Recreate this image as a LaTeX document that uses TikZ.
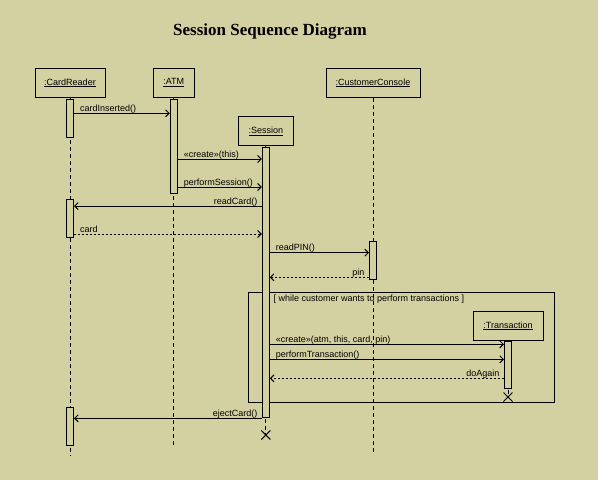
\documentclass[tikz,border=0pt]{standalone}
\usepackage{fontspec}
\setmainfont{Liberation Sans}
\newfontfamily\titlefont{Liberation Serif}
\usetikzlibrary{arrows.meta,shapes.misc}
\definecolor{paper}{RGB}{211,209,161}
\tikzstyle{object} = [rectangle, draw, fill=paper, minimum height=29, inner sep=0pt]
\tikzstyle{activation} = [rectangle, draw, fill=paper, minimum width=7, inner sep=0pt]
\tikzstyle{lifeline} = [draw, dash pattern=on 4pt off 3pt]
\tikzstyle{call} = [draw, -{Straight Barb[length=3.5pt,width=7pt]}]
\tikzstyle{reply} = [call, dash pattern=on 2pt off 2pt]
\tikzstyle{sendtext} = [pos=0, anchor=base west, xshift=5.5pt, yshift=2pt, inner sep=0pt]
\tikzstyle{backtext} = [pos=0, anchor=base east, xshift=-4pt, yshift=2pt, inner sep=0pt]
\tikzstyle{destroy} = [draw, cross out, minimum size=8, inner sep=0pt]

\begin{document}
\begin{tikzpicture}[x=1pt, y=-1pt, line width=1pt, font=\fontsize{9}{10}\selectfont]
  \fill[paper] (0,0) rectangle (598,480);
  \node[anchor=base, font=\titlefont\fontsize{17}{20}\selectfont\bfseries] (title) at (270,35) {Session Sequence Diagram};

  % loop frame
  \node[draw, rectangle, minimum width=306, minimum height=110, inner sep=0pt] (loop) at (401.3,347.3) {};
  \node[anchor=base west, xshift=25.4pt, yshift=-9.7pt, inner sep=0pt] (guard) at (loop.north west)
        {[ while customer wants to perform transactions ]};

  % objects
  \node[object, minimum width=70] (cr) at (70,82.8) {\underline{:CardReader}};
  \node[object, minimum width=41] (atm) at (173.8,82.8) {\underline{:ATM}};
  \node[object, minimum width=55] (ses) at (265.8,131) {\underline{:Session}};
  \node[object, minimum width=94] (cc) at (373,82.8) {\underline{:CustomerConsole}};
  \node[object, minimum width=70] (tr) at (508,325.8) {\underline{:Transaction}};

  % ends of the lifelines
  \coordinate (crEnd) at (70,455);
  \coordinate (atmEnd) at (173.8,447.7);
  \coordinate (ccEnd) at (373,453);
  \node[destroy] (sesX) at (265.8,435) {};
  \node[destroy] (trX) at (508,397) {};

  \path[lifeline] (cr.south) -- (crEnd);
  \path[lifeline] (atm.south) -- (atmEnd);
  \path[lifeline] (cc.south) -- (ccEnd);
  \path[lifeline] (ses.south) -- (sesX.center);
  \path[lifeline] (tr.south) -- (trX.center);

  % activations
  \node[activation, minimum height=38] (cr1) at (70,118.3) {};
  \node[activation, minimum height=38] (cr2) at (70,218.3) {};
  \node[activation, minimum height=38] (cr3) at (70,426.3) {};
  \node[activation, minimum height=94] (atm1) at (173.8,146.3) {};
  \node[activation, minimum height=270] (ses1) at (265.8,282.3) {};
  \node[activation, minimum height=38] (cc1) at (373,260.3) {};
  \node[activation, minimum height=47] (tr1) at (508,364.8) {};

  % message rows
  \coordinate (m1) at (0,113.3);
  \coordinate (m2) at (0,159);
  \coordinate (m3) at (0,187);
  \coordinate (m4) at (0,206);
  \coordinate (m5) at (0,234);
  \coordinate (m6) at (0,252.7);
  \coordinate (m7) at (0,277.3);
  \coordinate (m8) at (0,344.3);
  \coordinate (m9) at (0,359.3);
  \coordinate (m10) at (0,378.3);
  \coordinate (m11) at (0,418.3);

  \path[call] (cr1.east |- m1) -- node[sendtext] {cardInserted()} (atm1.west |- m1);
  \path[call] (atm1.east |- m2) -- node[sendtext] {«create»(this)} (ses1.west |- m2);
  \path[call] (atm1.east |- m3) -- node[sendtext] {performSession()} (ses1.west |- m3);
  \path[call] (ses1.west |- m4) -- node[backtext] {readCard()} (cr2.east |- m4);
  \path[reply] (cr2.east |- m5) -- node[sendtext] {card} (ses1.west |- m5);
  \path[call] (ses1.east |- m6) -- node[sendtext] {readPIN()} (cc1.west |- m6);
  \path[reply] (cc1.west |- m7) -- node[backtext] {pin} (ses1.east |- m7);
  \path[call] (ses1.east |- m8) -- node[sendtext] {«create»(atm, this, card, pin)} (tr1.west |- m8);
  \path[call] (ses1.east |- m9) -- node[sendtext] {performTransaction()} (tr1.west |- m9);
  \path[reply] (tr1.west |- m10) -- node[backtext] {doAgain} (ses1.east |- m10);
  \path[call] (ses1.west |- m11) -- node[backtext] {ejectCard()} (cr3.east |- m11);
\end{tikzpicture}
\end{document}
